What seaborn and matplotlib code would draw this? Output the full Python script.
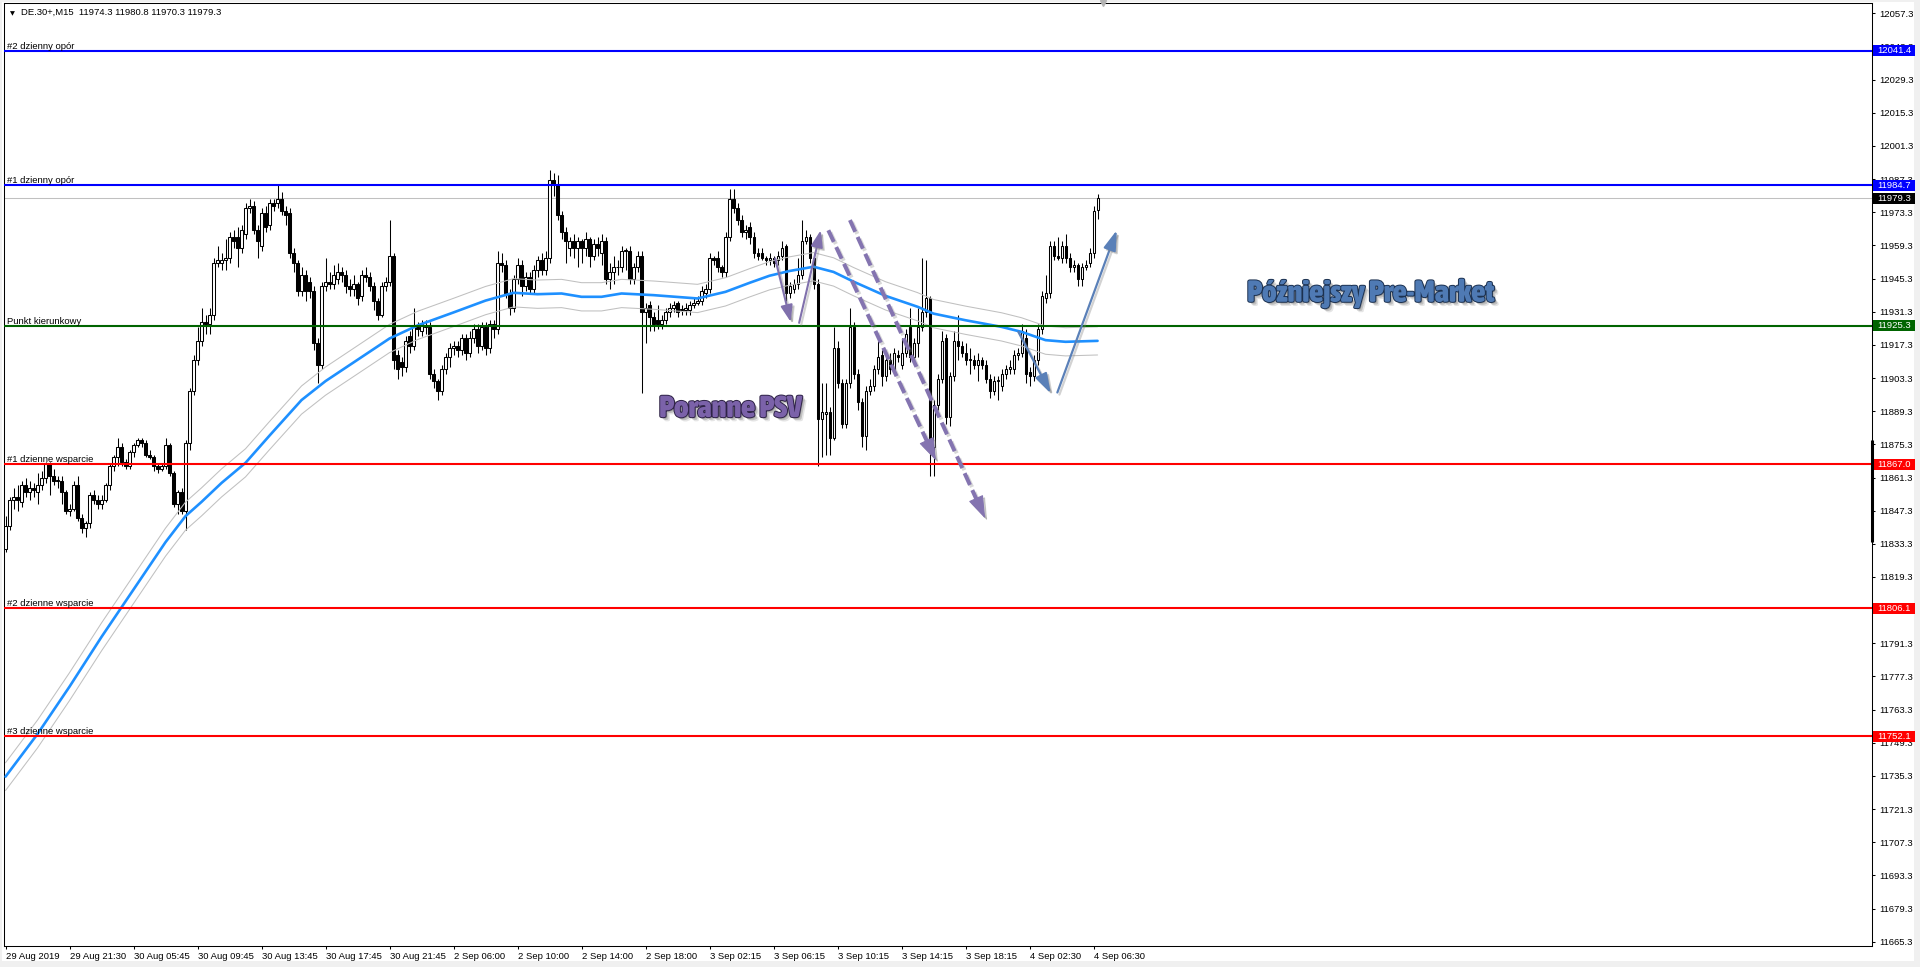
import numpy as np
import matplotlib
matplotlib.use("Agg")
import matplotlib.pyplot as plt
import seaborn as sns
from matplotlib import font_manager as fm
import matplotlib.patheffects as pe
from matplotlib.patches import Rectangle
from matplotlib.transforms import blended_transform_factory, Affine2D

# ----------------------------------------------------------------- data
header_text = "DE.30+,M15  11974.3 11980.8 11970.3 11979.3"

time_labels = ["29 Aug 2019", "29 Aug 21:30", "30 Aug 05:45", "30 Aug 09:45",
               "30 Aug 13:45", "30 Aug 17:45", "30 Aug 21:45", "2 Sep 06:00",
               "2 Sep 10:00", "2 Sep 14:00", "2 Sep 18:00", "3 Sep 02:15",
               "3 Sep 06:15", "3 Sep 10:15", "3 Sep 14:15", "3 Sep 18:15",
               "4 Sep 02:30", "4 Sep 06:30"]
bars_per_label = 16

y_ticks = [12057.3, 12043.3, 12029.3, 12015.3, 12001.3, 11987.3, 11973.3,
           11959.3, 11945.3, 11931.3, 11917.3, 11903.3, 11889.3, 11875.3,
           11861.3, 11847.3, 11833.3, 11819.3, 11805.3, 11791.3, 11777.3,
           11763.3, 11749.3, 11735.3, 11721.3, 11707.3, 11693.3, 11679.3,
           11665.3]

opens = [
    11831, 11841, 11852, 11853, 11851, 11858, 11855, 11857, 11855, 11858,
    11861, 11867, 11862, 11860, 11860, 11855, 11847, 11848, 11858, 11844,
    11840, 11842, 11854, 11852, 11850, 11852, 11858, 11866, 11870, 11874,
    11868, 11866, 11872, 11875, 11877, 11876, 11871, 11870, 11866, 11865,
    11866, 11875, 11863, 11850, 11855, 11847, 11876, 11898, 11911, 11919,
    11927, 11926, 11930, 11952, 11952, 11953, 11954, 11963, 11963, 11958,
    11964, 11975, 11976, 11966, 11959, 11973, 11968, 11977, 11977, 11979,
    11974, 11973, 11956, 11952, 11940, 11947, 11944, 11940, 11918, 11909,
    11942, 11944, 11943, 11945, 11948, 11947, 11942, 11941, 11943, 11938,
    11947, 11946, 11942, 11936, 11930, 11942, 11944, 11955, 11913, 11910,
    11908, 11921, 11917, 11925, 11923, 11925, 11925, 11905, 11902, 11898,
    11907, 11912, 11916, 11917, 11915, 11920, 11914, 11920, 11924, 11917,
    11925, 11916, 11926, 11924, 11952, 11951, 11939, 11933, 11945, 11951,
    11942, 11946, 11941, 11949, 11953, 11949, 11954, 11987, 11985, 11972,
    11965, 11958, 11961, 11958, 11961, 11958, 11962, 11955, 11960, 11956,
    11961, 11945, 11948, 11950, 11950, 11957, 11957, 11945, 11950, 11955,
    11931, 11934, 11929, 11928, 11926, 11928, 11931, 11933, 11935, 11932,
    11932, 11932, 11934, 11935, 11936, 11939, 11941, 11954, 11954, 11950,
    11948, 11963, 11979, 11975, 11970, 11965, 11967, 11963, 11956, 11956,
    11954, 11953, 11954, 11953, 11955, 11959, 11939, 11941, 11943, 11947,
    11961, 11963, 11954, 11943, 11886, 11888, 11889, 11878, 11916, 11901,
    11884, 11901, 11925, 11905, 11893, 11879, 11898, 11900, 11907, 11913,
    11904, 11911, 11907, 11913, 11909, 11914, 11925, 11912, 11918, 11925,
    11931, 11937, 11874, 11892, 11903, 11920, 11887, 11904, 11919, 11917,
    11914, 11911, 11911, 11909, 11911, 11909, 11903, 11898, 11902, 11900,
    11905, 11907, 11907, 11913, 11914, 11920, 11906, 11904, 11911, 11924,
    11937, 11939, 11959, 11955, 11954, 11959, 11954, 11950, 11951, 11945,
    11950, 11952, 11956, 11974.3]
highs = [
    11845, 11853, 11857, 11858, 11860, 11861, 11860, 11859, 11863, 11864,
    11868, 11868, 11865, 11862, 11862, 11856, 11850, 11860, 11862, 11846,
    11843, 11855, 11856, 11854, 11854, 11859, 11867, 11871, 11878, 11876,
    11869, 11873, 11876, 11878, 11878, 11877, 11873, 11871, 11867, 11867,
    11878, 11876, 11864, 11856, 11857, 11877, 11899, 11913, 11925, 11933,
    11930, 11933, 11954, 11959, 11956, 11962, 11965, 11966, 11967, 11968,
    11977, 11979, 11978, 11968, 11975, 11976, 11979, 11979, 11985, 11982,
    11976, 11975, 11958, 11953, 11950, 11949, 11946, 11942, 11920, 11944,
    11954, 11948, 11951, 11952, 11950, 11949, 11945, 11947, 11944, 11949,
    11950, 11948, 11944, 11937, 11944, 11946, 11970, 11956, 11915, 11912,
    11921, 11923, 11933, 11927, 11928, 11928, 11927, 11907, 11903, 11909,
    11914, 11918, 11919, 11919, 11922, 11922, 11923, 11926, 11926, 11927,
    11927, 11928, 11928, 11957, 11956, 11953, 11941, 11947, 11954, 11953,
    11948, 11948, 11951, 11955, 11956, 11957, 11991, 11990, 11989, 11974,
    11967, 11963, 11964, 11963, 11962, 11965, 11963, 11962, 11963, 11964,
    11963, 11952, 11955, 11953, 11959, 11958, 11959, 11952, 11957, 11957,
    11935, 11936, 11931, 11934, 11930, 11933, 11935, 11936, 11936, 11934,
    11935, 11936, 11937, 11938, 11942, 11943, 11956, 11955, 11957, 11951,
    11965, 11983, 11983, 11977, 11972, 11968, 11969, 11965, 11958, 11958,
    11955, 11956, 11955, 11957, 11961, 11960, 11944, 11945, 11954, 11970,
    11966, 11964, 11956, 11945, 11901, 11901, 11891, 11925, 11919, 11903,
    11903, 11933, 11927, 11907, 11895, 11900, 11903, 11909, 11919, 11915,
    11913, 11914, 11916, 11915, 11920, 11924, 11933, 11920, 11933, 11954,
    11953, 11938, 11894, 11905, 11923, 11922, 11906, 11923, 11930, 11919,
    11918, 11916, 11913, 11914, 11912, 11911, 11905, 11904, 11904, 11907,
    11909, 11911, 11915, 11916, 11926, 11924, 11908, 11913, 11926, 11940,
    11947, 11961, 11961, 11963, 11961, 11964, 11956, 11953, 11952, 11952,
    11953, 11958, 11976, 11980.8]
lows = [
    11830, 11839, 11848, 11847, 11849, 11853, 11852, 11853, 11850, 11856,
    11859, 11854, 11858, 11857, 11850, 11846, 11845, 11847, 11843, 11838,
    11836, 11840, 11850, 11848, 11848, 11851, 11856, 11864, 11866, 11866,
    11865, 11865, 11870, 11874, 11874, 11870, 11869, 11864, 11863, 11864,
    11865, 11862, 11849, 11846, 11846, 11839, 11873, 11896, 11909, 11917,
    11922, 11922, 11928, 11950, 11949, 11949, 11952, 11958, 11950, 11956,
    11962, 11973, 11964, 11954, 11957, 11965, 11966, 11974, 11975, 11972,
    11968, 11954, 11948, 11938, 11938, 11936, 11937, 11915, 11901, 11907,
    11940, 11941, 11941, 11943, 11944, 11939, 11938, 11938, 11934, 11936,
    11944, 11940, 11932, 11928, 11929, 11940, 11942, 11907, 11903, 11904,
    11906, 11914, 11915, 11921, 11921, 11922, 11903, 11899, 11894, 11896,
    11905, 11908, 11913, 11912, 11913, 11911, 11912, 11918, 11914, 11915,
    11913, 11914, 11920, 11922, 11948, 11937, 11930, 11931, 11943, 11938,
    11940, 11939, 11939, 11946, 11947, 11947, 11952, 11980, 11970, 11962,
    11952, 11955, 11954, 11950, 11952, 11955, 11950, 11953, 11955, 11951,
    11943, 11941, 11943, 11947, 11948, 11949, 11943, 11943, 11948, 11897,
    11918, 11923, 11923, 11924, 11924, 11926, 11929, 11931, 11929, 11930,
    11930, 11930, 11933, 11934, 11934, 11937, 11939, 11951, 11948, 11946,
    11946, 11961, 11973, 11968, 11963, 11962, 11960, 11954, 11953, 11953,
    11951, 11951, 11950, 11951, 11953, 11936, 11937, 11939, 11941, 11945,
    11960, 11952, 11941, 11866, 11870, 11871, 11871, 11877, 11899, 11882,
    11882, 11899, 11903, 11890, 11874, 11873, 11896, 11898, 11905, 11900,
    11902, 11905, 11905, 11910, 11907, 11912, 11910, 11909, 11912, 11923,
    11929, 11862, 11862, 11890, 11901, 11884, 11883, 11902, 11911, 11912,
    11909, 11905, 11907, 11902, 11907, 11901, 11895, 11896, 11894, 11898,
    11903, 11905, 11905, 11911, 11912, 11901, 11900, 11902, 11909, 11922,
    11935, 11937, 11953, 11953, 11952, 11952, 11948, 11948, 11942, 11942,
    11949, 11950, 11954, 11970.3]
closes = [
    11841, 11852, 11853, 11852, 11858, 11855, 11857, 11856, 11858, 11861,
    11867, 11862, 11860, 11860, 11855, 11847, 11848, 11858, 11844, 11840,
    11842, 11854, 11852, 11850, 11852, 11858, 11866, 11870, 11874, 11868,
    11866, 11872, 11875, 11877, 11876, 11871, 11870, 11866, 11865, 11866,
    11875, 11863, 11850, 11855, 11847, 11876, 11898, 11911, 11919, 11927,
    11926, 11930, 11952, 11953, 11953, 11954, 11963, 11961, 11958, 11966,
    11975, 11976, 11966, 11961, 11973, 11967, 11977, 11976, 11979, 11974,
    11972, 11956, 11952, 11940, 11947, 11940, 11940, 11918, 11909, 11942,
    11944, 11943, 11947, 11948, 11947, 11942, 11941, 11943, 11937, 11947,
    11946, 11942, 11936, 11930, 11942, 11944, 11955, 11911, 11907, 11908,
    11919, 11917, 11925, 11924, 11926, 11925, 11905, 11902, 11898, 11907,
    11912, 11916, 11917, 11915, 11920, 11914, 11920, 11924, 11917, 11925,
    11916, 11926, 11924, 11952, 11951, 11939, 11933, 11945, 11951, 11942,
    11946, 11941, 11949, 11953, 11949, 11954, 11987, 11985, 11972, 11965,
    11961, 11961, 11958, 11961, 11958, 11962, 11955, 11960, 11958, 11961,
    11945, 11948, 11950, 11950, 11957, 11957, 11945, 11950, 11955, 11931,
    11933, 11929, 11926, 11926, 11928, 11931, 11933, 11934, 11931, 11932,
    11933, 11934, 11935, 11936, 11940, 11941, 11954, 11953, 11950, 11948,
    11963, 11979, 11975, 11970, 11965, 11966, 11963, 11956, 11955, 11954,
    11953, 11954, 11952, 11955, 11958, 11939, 11942, 11943, 11947, 11961,
    11963, 11954, 11943, 11886, 11889, 11889, 11878, 11916, 11901, 11884,
    11901, 11925, 11905, 11893, 11879, 11898, 11900, 11907, 11912, 11904,
    11911, 11907, 11914, 11912, 11914, 11922, 11912, 11918, 11925, 11931,
    11937, 11874, 11892, 11903, 11919, 11887, 11904, 11919, 11917, 11914,
    11911, 11911, 11909, 11911, 11909, 11903, 11898, 11902, 11902, 11905,
    11907, 11908, 11913, 11914, 11923, 11905, 11904, 11911, 11924, 11938,
    11939, 11959, 11955, 11954, 11959, 11954, 11950, 11951, 11945, 11950,
    11951, 11956, 11974, 11979.3]

# moving average (bar index, value)
ma_bars = [0, 8, 16, 24, 30, 36, 40, 45, 49, 54, 60, 66, 74, 80, 88, 96, 103,
           112, 120, 127, 133, 139, 144, 149, 154, 162, 173, 180, 186, 191,
           196, 202, 207, 212, 220, 228, 232, 240, 249, 254, 260, 265, 273]
ma_values = [11735, 11753, 11773, 11794, 11809, 11824, 11834, 11845, 11851,
             11859, 11867.5, 11879, 11894, 11902, 11911, 11920, 11925.5,
             11931, 11936, 11939.3, 11938.7, 11939, 11937.6, 11937.6, 11939,
             11938.3, 11936.9, 11939.7, 11943.5, 11946.5, 11948.5, 11950.3,
             11948.1, 11944, 11938, 11933.4, 11930.5, 11927.7, 11924.9,
             11922.8, 11919.3, 11918.6, 11919]
envelope_pct = 0.05

level_names = ["#2 dzienny opór", "#1 dzienny opór", "Punkt kierunkowy",
               "#1 dzienne wsparcie", "#2 dzienne wsparcie", "#3 dzienne wsparcie"]
level_values = [12041.4, 11984.7, 11925.3, 11867.0, 11806.1, 11752.1]
level_colors = ["#0000FF", "#0000FF", "#006400", "#FF0000", "#FF0000", "#FF0000"]
bid_price = 11979.3

# annotations (bar index, price)
psv_text = "Poranne PSV"
psv_anchor = (163.4, 11886.8)
pm_text = "Późniejszy Pre-Market"
pm_anchor = (310.4, 11935.5)
psv_solid_arrows = [((192.4, 11953.8), (196.3, 11927.0)),
                    ((198.4, 11926.6), (203.8, 11965.7))]
psv_dashed_arrows = [((205.7, 11965.7), (232.6, 11868.5)),
                     ((211.1, 11970.0), (244.9, 11844.0))]
pm_arrows = [((253.2, 11922.8), (261.3, 11896.8)),
             ((262.95, 11897.2), (277.8, 11965.7))]
chart_shift_bar = 274.4

# ----------------------------------------------------------------- style
sns.set_style("white")
plt.rcParams["font.family"] = ["Liberation Sans", "DejaVu Sans"]
FS = 6.8

W, H = 1920, 967
fig = plt.figure(figsize=(W / 100, H / 100), dpi=100)
fig.patch.set_facecolor("#F0F0F0")
fig.patches.append(Rectangle((2 / W, (H - 961) / H), (1914 - 2) / W, (961 - 2) / H,
                             transform=fig.transFigure, facecolor="white",
                             edgecolor="none", zorder=-10))
ax = fig.add_axes([4 / W, (H - 946) / H, (1872 - 4) / W, (946 - 3) / H])
ax.set_facecolor("white")

XMIN, XMAX = -0.375, 466.6
YMIN, YMAX = 11663.5, 12061.65

# ----------------------------------------------------------------- candles
n = len(closes)
xs = np.arange(n)
o = np.asarray(opens, float)
c = np.asarray(closes, float)
hi = np.asarray(highs, float)
lo = np.asarray(lows, float)
bull = c >= o
ax.vlines(xs, lo, hi, colors="black", linewidth=0.75, zorder=3)
ax.bar(xs, np.maximum(np.abs(c - o), 0.3), bottom=np.minimum(o, c), width=0.52,
       color=["white" if b else "black" for b in bull], edgecolor="black",
       linewidth=0.75, zorder=4)

# ----------------------------------------------------------------- MA + envelopes
ma = np.asarray(ma_values, float)
sns.lineplot(x=ma_bars, y=ma * (1 + envelope_pct / 100), ax=ax, color="#C0C0C0",
             lw=0.75, zorder=5)
sns.lineplot(x=ma_bars, y=ma * (1 - envelope_pct / 100), ax=ax, color="#C0C0C0",
             lw=0.75, zorder=5)
sns.lineplot(x=ma_bars, y=ma, ax=ax, color="#1E90FF", lw=1.9, zorder=5.5)

# ----------------------------------------------------------------- levels
ax.axhline(bid_price, color="#C0C0C0", lw=0.75, zorder=2)
bt = blended_transform_factory(ax.transAxes, ax.transData)
for name, v, col in zip(level_names, level_values, level_colors):
    ax.axhline(v, color=col, lw=1.5, zorder=6)
    ax.annotate(name, xy=(0, v), xycoords=bt, xytext=(2.0, 0.2),
                textcoords="offset points", ha="left", va="bottom",
                fontsize=FS, color="black", zorder=7)

ax.set_xlim(XMIN, XMAX)
ax.set_ylim(YMIN, YMAX)
ax.set_xlabel("")
ax.set_ylabel("")

# ----------------------------------------------------------------- axes
for s in ax.spines.values():
    s.set_color("black")
    s.set_linewidth(0.75)
ax.yaxis.tick_right()
ax.set_yticks(y_ticks)
ax.set_yticklabels([f"{v:.1f}" for v in y_ticks])
ax.tick_params(axis="y", which="both", right=True, left=False, direction="out",
               length=2.2, width=0.75, pad=3.0, labelsize=FS, colors="black")
ax.set_xticks(np.arange(0, n, bars_per_label)[:len(time_labels)])
ax.set_xticklabels(time_labels, ha="left")
ax.tick_params(axis="x", bottom=True, direction="out", length=2.2, width=0.75,
               pad=2.4, labelsize=FS, colors="black")

# price boxes on the right axis
px_per_unit = (946 - 3) / (YMAX - YMIN)
box_h = 11 / px_per_unit
box_w = 42 / (1872 - 4)
for v, col in list(zip(level_values, level_colors)) + [(bid_price, "#000000")]:
    ax.add_patch(Rectangle((1.0008, v - box_h / 2), box_w, box_h, transform=bt,
                           facecolor=col, edgecolor="none", clip_on=False,
                           zorder=10))
    ax.text(1.0030, v, f"{v:.1f}", transform=bt, color="white", fontsize=FS,
            ha="left", va="center", zorder=11, clip_on=False)
ax.plot([1, 1], [11834, 11877], transform=bt, color="black", lw=2.2,
        solid_capstyle="butt", clip_on=False, zorder=10)

# chart shift marker and header
ax.plot([chart_shift_bar], [YMAX], marker="v", markersize=5, color="#B4B4B4",
        clip_on=False, zorder=12)
ax.annotate("▼", xy=(0, 1), xycoords="axes fraction", xytext=(6.0, -7.4),
            textcoords="offset points", fontsize=4.6, ha="center", va="center",
            family=["DejaVu Sans"], color="black")
ax.annotate(header_text, xy=(0, 1), xycoords="axes fraction", xytext=(12.0, -7.0),
            textcoords="offset points", fontsize=FS, ha="left", va="center",
            color="black")

# ----------------------------------------------------------------- arrows
def draw_head(tail, tip, color, lw, hl, hw):
    ax.annotate("", xy=tip, xytext=tail, zorder=9,
                arrowprops=dict(arrowstyle=f"-|>,head_length={hl},head_width={hw}",
                                color=color, lw=lw, shrinkA=0, shrinkB=0,
                                mutation_scale=10,
                                path_effects=[pe.SimpleLineShadow(offset=(1.5, -1.5), shadow_color="#808080", alpha=0.35),
                                              pe.SimplePatchShadow(offset=(1.5, -1.5), shadow_rgbFace="#808080", alpha=0.35),
                                              pe.Normal()]))

for tail, tip in psv_solid_arrows:
    draw_head(tail, tip, "#8070AC", 1.5, 1.0, 0.36)
for tail, tip in pm_arrows:
    draw_head(tail, tip, "#5A80B8", 1.6, 1.2, 0.38)

fig.canvas.draw()
for tail, tip in psv_dashed_arrows:
    p0 = ax.transData.transform(tail)
    p1 = ax.transData.transform(tip)
    L = np.hypot(*(p1 - p0))
    frac = 1 - 19.0 / L
    mid = (tail[0] + frac * (tip[0] - tail[0]), tail[1] + frac * (tip[1] - tail[1]))
    ax.plot([tail[0], mid[0]], [tail[1], mid[1]], color="#8474B0", lw=2.9,
            linestyle=(0, (3.2, 1.4)), dash_capstyle="butt", zorder=9,
            path_effects=[pe.SimpleLineShadow(offset=(1.5, -1.5), shadow_color="#808080", alpha=0.3),
                          pe.Normal()])
    draw_head(mid, tip, "#8474B0", 0.8, 1.45, 0.5)

# ----------------------------------------------------------------- big titles
def pick_bold_condensed():
    sd = getattr(fm, "stretch_dict", {})
    wd = getattr(fm, "weight_dict", {})
    best, best_key = None, None
    for f in fm.fontManager.ttflist:
        st = f.stretch if isinstance(f.stretch, (int, float)) else sd.get(str(f.stretch), 500)
        wt = f.weight if isinstance(f.weight, (int, float)) else wd.get(str(f.weight), 400)
        if str(f.style) != "normal" or st > 300 or wt < 700:
            continue
        key = abs(st - 200) / 100 + abs(wt - 900) / 200
        if best_key is None or key < best_key:
            best, best_key = f, key
    if best is not None:
        return fm.FontProperties(fname=best.fname)
    return fm.FontProperties(family="DejaVu Sans", weight="bold")


class Squeeze(pe.AbstractPathEffect):
    def __init__(self, base, sx, x0):
        super().__init__()
        self.base, self.sx, self.x0 = base, sx, x0

    def draw_path(self, renderer, gc, tpath, affine, rgbFace=None):
        sq = Affine2D().translate(-self.x0, 0).scale(self.sx, 1).translate(self.x0, 0)
        self.base.draw_path(renderer, gc, tpath, affine + sq, rgbFace)


title_font = pick_bold_condensed()
renderer = fig.canvas.get_renderer()
for txt, anchor, fill, edge, target_w in [(psv_text, psv_anchor, "#7B62A9", "#2E2346", 143),
                                          (pm_text, pm_anchor, "#4F7AB4", "#1C3150", 248)]:
    fp = title_font.copy()
    fp.set_size(22)
    t = ax.text(anchor[0], anchor[1], txt, fontproperties=fp, color=fill,
                ha="left", va="baseline", zorder=12)
    w = t.get_window_extent(renderer).width
    sx = min(1.0, target_w / w) if w > 0 else 1.0
    x0 = ax.transData.transform(anchor)[0]
    effects = [pe.SimplePatchShadow(offset=(3.0, -3.0), shadow_rgbFace="#000000", alpha=0.10),
               pe.SimplePatchShadow(offset=(2.0, -2.0), shadow_rgbFace="#000000", alpha=0.16),
               pe.SimplePatchShadow(offset=(1.0, -1.0), shadow_rgbFace="#000000", alpha=0.18),
               pe.Stroke(linewidth=1.4, foreground=edge),
               pe.Normal()]
    t.set_path_effects([Squeeze(e, sx, x0) for e in effects])

fig.savefig("out.png", dpi=100, facecolor=fig.get_facecolor())
